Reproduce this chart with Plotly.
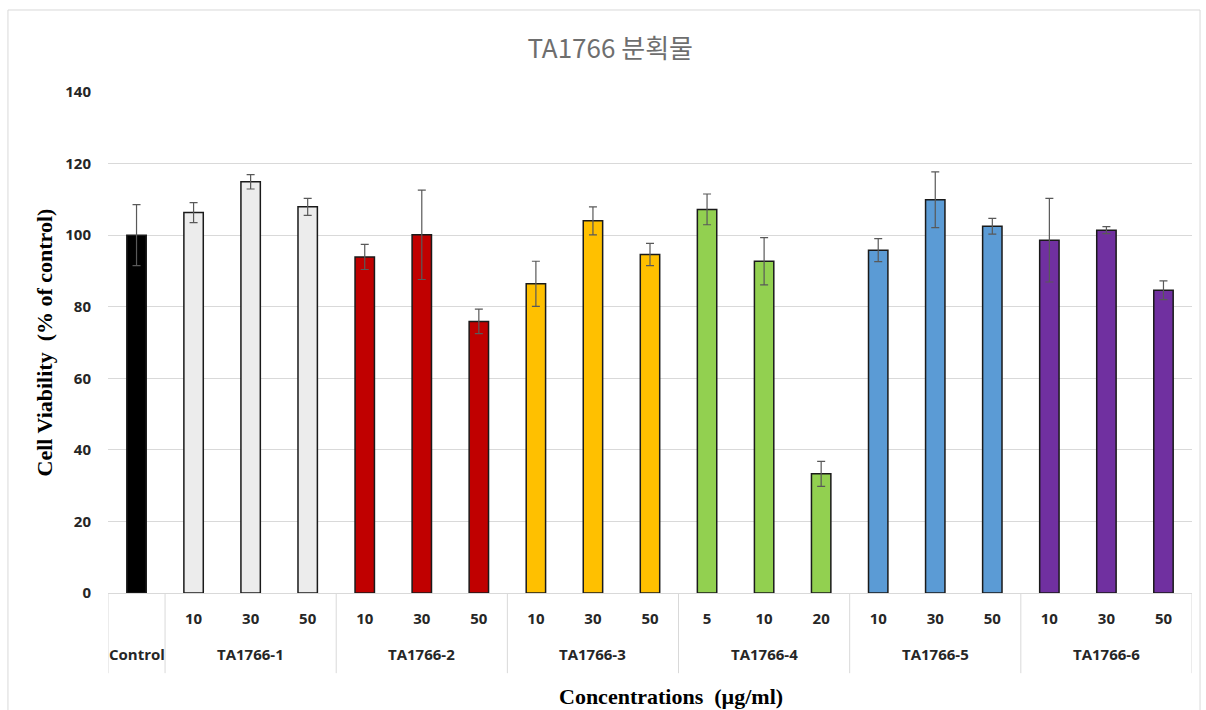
import plotly.graph_objects as go

# Sample groups and concentrations (µg/ml)
groups = ["Control",
          "TA1766-1", "TA1766-1", "TA1766-1",
          "TA1766-2", "TA1766-2", "TA1766-2",
          "TA1766-3", "TA1766-3", "TA1766-3",
          "TA1766-4", "TA1766-4", "TA1766-4",
          "TA1766-5", "TA1766-5", "TA1766-5",
          "TA1766-6", "TA1766-6", "TA1766-6"]
concentrations = ["",
                  "10", "30", "50",
                  "10", "30", "50",
                  "10", "30", "50",
                  "5", "10", "20",
                  "10", "30", "50",
                  "10", "30", "50"]

# Cell viability (% of control) and standard deviation
viability = [100.0,
             106.3, 114.9, 107.9,
             93.9, 100.1, 75.9,
             86.4, 104.0, 94.6,
             107.2, 92.7, 33.3,
             95.8, 109.9, 102.5,
             98.6, 101.4, 84.6]
sd = [8.5,
      2.8, 2.0, 2.4,
      3.5, 12.5, 3.4,
      6.3, 3.9, 3.1,
      4.3, 6.6, 3.5,
      3.2, 7.8, 2.2,
      11.7, 1.0, 2.6]

group_colors = {
    "Control": "#000000",
    "TA1766-1": "#ececec",
    "TA1766-2": "#c00000",
    "TA1766-3": "#ffc000",
    "TA1766-4": "#92d050",
    "TA1766-5": "#5b9bd5",
    "TA1766-6": "#7030a0",
}

y_ticks = [0, 20, 40, 60, 80, 100, 120, 140]

# unique category key per bar, keeping the drawing order
keys = [f"{g}|{c}" for g, c in zip(groups, concentrations)]
bar_colors = [group_colors[g] for g in groups]

# group spans (first index, last index) in category order
group_names = list(dict.fromkeys(groups))
spans = []
for name in group_names:
    idx = [i for i, g in enumerate(groups) if g == name]
    spans.append((name, idx[0], idx[-1]))

fig = go.Figure()
fig.add_trace(go.Bar(
    x=keys,
    y=viability,
    marker=dict(color=bar_colors, line=dict(color="#1a1a1a", width=1.5)),
    error_y=dict(type="data", array=sd, visible=True,
                 color="#595959", thickness=1.2, width=4),
    showlegend=False,
))

label_font = dict(family="Open Sans", size=15, color="#262626", weight="bold")
axis_title_font = dict(family="Liberation Serif", size=22, color="#000000", weight="bold")

annotations = []
shapes = []
div_color = "#d9d9d9"
for name, i0, i1 in spans:
    # group name on the second label row
    annotations.append(dict(
        x=(i0 + i1) / 2, xref="x", y=-0.122, yref="paper",
        text=name, showarrow=False, font=label_font,
        xanchor="center", yanchor="middle",
    ))
    # dividers between groups
    shapes.append(dict(
        type="line", xref="x", yref="paper",
        x0=i0 - 0.5, x1=i0 - 0.5, y0=0, y1=-0.16,
        line=dict(color=div_color, width=1),
    ))
shapes.append(dict(
    type="line", xref="x", yref="paper",
    x0=len(keys) - 0.5, x1=len(keys) - 0.5, y0=0, y1=-0.16,
    line=dict(color=div_color, width=1),
))
# x-axis title, sitting below the group row
annotations.append(dict(
    x=0.519, xref="paper", y=-0.207, yref="paper",
    text="Concentrations  (µg/ml)", showarrow=False,
    font=axis_title_font, xanchor="center", yanchor="middle",
))
# outer chart frame
shapes.append(dict(
    type="rect", xref="paper", yref="paper",
    x0=-0.0923, x1=1.0074, y0=-0.26, y1=1.1637,
    line=dict(color="#d9d9d9", width=1), fillcolor="rgba(0,0,0,0)",
    layer="below",
))

fig.update_layout(
    width=1206, height=710,
    margin=dict(l=108, r=14, t=92, b=117),
    paper_bgcolor="white",
    plot_bgcolor="white",
    bargap=0.66,
    title=dict(
        text="TA1766 분획물",
        x=0.506, xanchor="center",
        y=0.931, yanchor="middle",
        font=dict(family="Noto Sans CJK KR", size=26, color="#6e6e6e"),
    ),
    xaxis=dict(
        type="category",
        automargin=False,
        range=[-0.5, len(keys) - 0.5],
        tickvals=keys, ticktext=concentrations,
        showline=True, linecolor="#d9d9d9", linewidth=1,
        ticks="", showgrid=False,
        tickfont=label_font,
        ticklabelstandoff=12,
    ),
    yaxis=dict(
        automargin=False,
        range=[0, 140],
        tickvals=y_ticks,
        showgrid=True, gridcolor="#d9d9d9", gridwidth=1,
        zeroline=False, showline=False, ticks="",
        tickfont=label_font,
        ticklabelstandoff=16,
        title=dict(
            text="Cell Viability  (% of control)",
            font=axis_title_font,
            standoff=6,
        ),
    ),
    annotations=annotations,
    shapes=shapes,
)

fig.write_html("out.html")
